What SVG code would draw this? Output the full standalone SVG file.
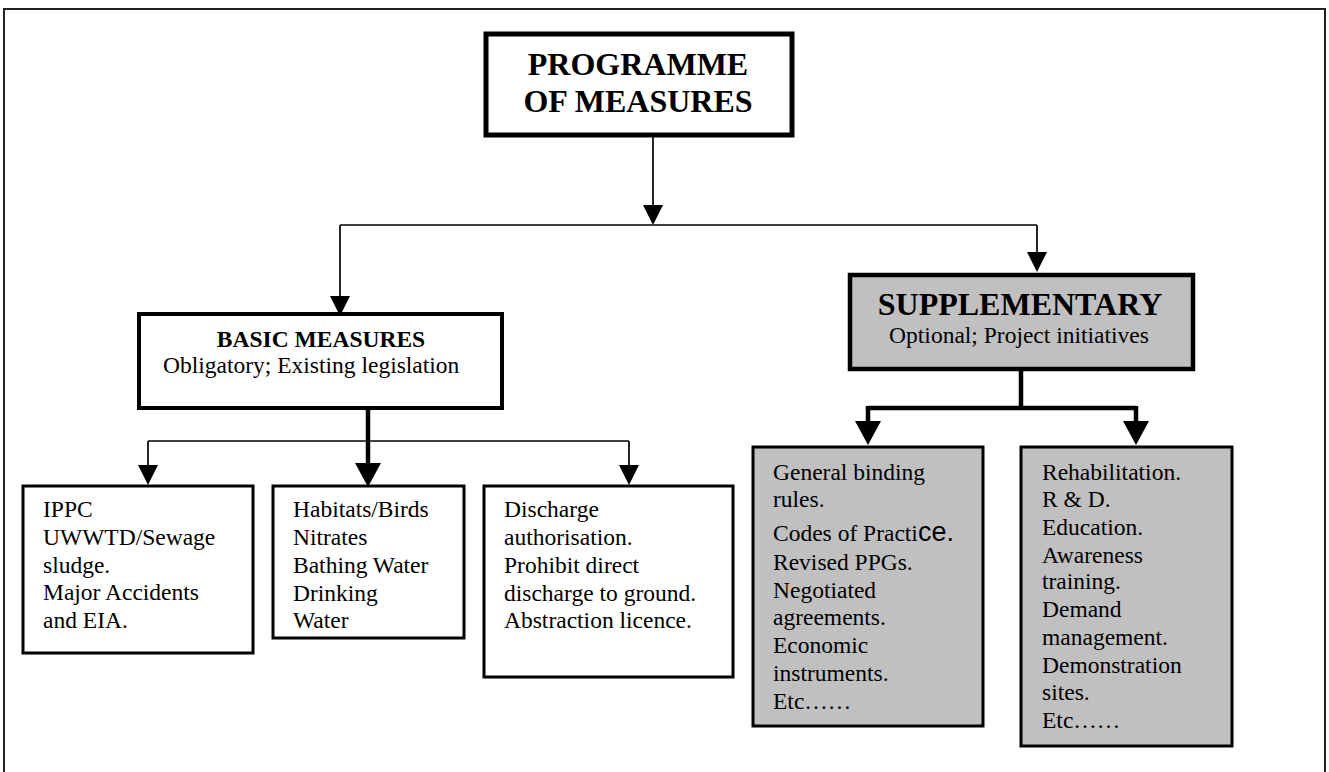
<svg xmlns="http://www.w3.org/2000/svg" width="1329" height="772" viewBox="0 0 1329 772">
<style>
  .t { font-family: "Liberation Serif", "Times New Roman", serif; font-size: 23.5px; fill: #000; }
  .b { font-weight: bold; }
  .h1 { font-size: 32px; }
  .h2 { font-size: 23.5px; }
  .h3 { font-size: 32px; }
  .box { fill: #fff; stroke: #000; }
  .grey { fill: #c0c0c0; stroke: #000; }
  .thin { fill: none; stroke: #000; stroke-width: 1.7; }
  .thick { fill: none; stroke: #000; stroke-width: 4.5; }
</style>
<defs>
  <marker id="ah" markerUnits="userSpaceOnUse" viewBox="0 0 20 20" markerWidth="20" markerHeight="20" refX="10" refY="10" orient="auto">
    <path d="M0,0 L20,10 L0,20 Z" fill="#000"/>
  </marker>
  <marker id="ahb" markerUnits="userSpaceOnUse" viewBox="0 0 24 26" markerWidth="24" markerHeight="26" refX="12" refY="13" orient="auto">
    <path d="M0,0 L24,13 L0,26 Z" fill="#000"/>
  </marker>
</defs>
<rect x="0" y="0" width="1329" height="772" fill="#fff"/>
<rect x="4" y="9" width="1321" height="790" fill="none" stroke="#222" stroke-width="2"/>

<g id="connectors">
  <line class="thin" x1="653" y1="137" x2="653" y2="215" marker-end="url(#ah)"/>
  <polyline class="thin" points="340,225 1037,225"/>
  <line class="thin" x1="340" y1="225" x2="340" y2="306" marker-end="url(#ah)"/>
  <line class="thin" x1="1037" y1="225" x2="1037" y2="262" marker-end="url(#ah)"/>
  <line class="thick" x1="368" y1="409" x2="368" y2="475" marker-end="url(#ahb)"/>
  <polyline class="thin" points="148,441 629,441"/>
  <line class="thin" x1="148" y1="441" x2="148" y2="475" marker-end="url(#ah)"/>
  <line class="thin" x1="629" y1="441" x2="629" y2="475" marker-end="url(#ah)"/>
  <polyline class="thick" points="1021,371 1021,408"/>
  <polyline class="thick" points="868,408 1136,408"/>
  <line class="thick" x1="868" y1="406" x2="868" y2="433" marker-end="url(#ahb)"/>
  <line class="thick" x1="1136" y1="406" x2="1136" y2="433" marker-end="url(#ahb)"/>
</g>

<g id="programme">
  <rect class="box" x="486" y="34" width="306" height="101" stroke-width="5"/>
  <text class="t b h1" x="638" y="75" text-anchor="middle">PROGRAMME</text>
  <text class="t b h1" x="638" y="112" text-anchor="middle">OF MEASURES</text>
</g>

<g id="basic">
  <rect class="box" x="139" y="314" width="363" height="94" stroke-width="4"/>
  <text class="t b h2" x="321" y="347" text-anchor="middle">BASIC MEASURES</text>
  <text class="t" x="163" y="373">Obligatory; Existing legislation</text>
</g>

<g id="supplementary">
  <rect class="grey" x="850" y="275" width="343" height="94" stroke-width="4.5"/>
  <text class="t b h3" x="1020" y="315" text-anchor="middle">SUPPLEMENTARY</text>
  <text class="t" x="1019" y="343" text-anchor="middle">Optional; Project initiatives</text>
</g>

<g id="ippc">
  <rect class="box" x="23" y="486" width="230" height="167" stroke-width="3"/>
  <text class="t" x="43" y="517">IPPC</text>
  <text class="t" x="43" y="545">UWWTD/Sewage</text>
  <text class="t" x="43" y="573">sludge.</text>
  <text class="t" x="43" y="600">Major Accidents</text>
  <text class="t" x="43" y="628">and EIA.</text>
</g>

<g id="habitats">
  <rect class="box" x="273" y="486" width="191" height="152" stroke-width="3"/>
  <text class="t" x="293" y="517">Habitats/Birds</text>
  <text class="t" x="293" y="545">Nitrates</text>
  <text class="t" x="293" y="573">Bathing Water</text>
  <text class="t" x="293" y="601">Drinking</text>
  <text class="t" x="293" y="628">Water</text>
</g>

<g id="discharge">
  <rect class="box" x="484" y="486" width="249" height="191" stroke-width="3"/>
  <text class="t" x="504" y="517">Discharge</text>
  <text class="t" x="504" y="545">authorisation.</text>
  <text class="t" x="504" y="573">Prohibit direct</text>
  <text class="t" x="504" y="601">discharge to ground.</text>
  <text class="t" x="504" y="628">Abstraction licence.</text>
</g>

<g id="general">
  <rect class="grey" x="753" y="447" width="230" height="279" stroke-width="3"/>
  <text class="t" x="773" y="480">General binding</text>
  <text class="t" x="773" y="507">rules.</text>
  <text class="t" x="773" y="541">Codes of Practi<tspan style="font-family:'Liberation Sans', Arial, sans-serif; font-size:27px">ce.</tspan></text>
  <text class="t" x="773" y="570">Revised PPGs.</text>
  <text class="t" x="773" y="598">Negotiated</text>
  <text class="t" x="773" y="625">agreements.</text>
  <text class="t" x="773" y="653">Economic</text>
  <text class="t" x="773" y="681">instruments.</text>
  <text class="t" x="773" y="709">Etc……</text>
</g>

<g id="rehabilitation">
  <rect class="grey" x="1021" y="447" width="211" height="299" stroke-width="3"/>
  <text class="t" x="1042" y="480">Rehabilitation.</text>
  <text class="t" x="1042" y="507">R &amp; D.</text>
  <text class="t" x="1042" y="535">Education.</text>
  <text class="t" x="1042" y="563">Awareness</text>
  <text class="t" x="1042" y="589">training.</text>
  <text class="t" x="1042" y="617">Demand</text>
  <text class="t" x="1042" y="645">management.</text>
  <text class="t" x="1042" y="673">Demonstration</text>
  <text class="t" x="1042" y="700">sites.</text>
  <text class="t" x="1042" y="728">Etc……</text>
</g>
</svg>
